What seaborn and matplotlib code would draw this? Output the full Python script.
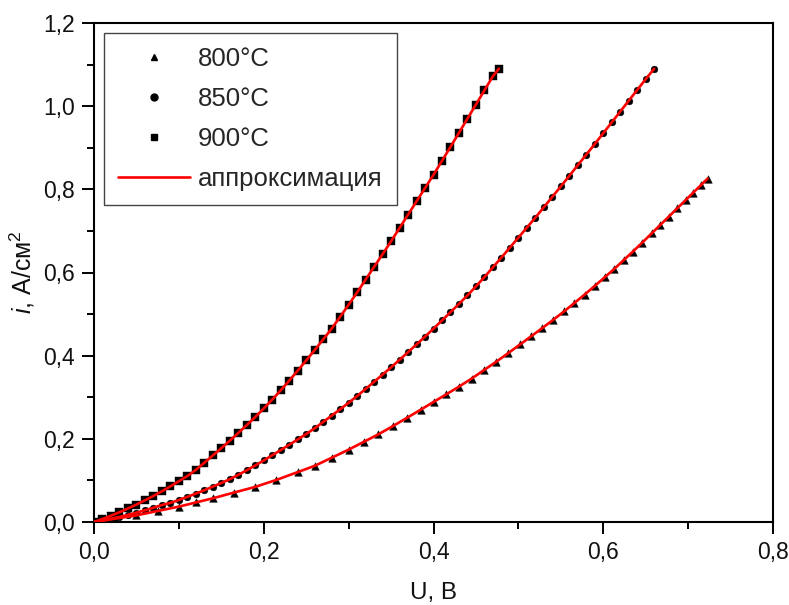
import matplotlib
matplotlib.use("Agg")
import matplotlib.pyplot as plt
from matplotlib.lines import Line2D
from matplotlib.ticker import MultipleLocator, FixedLocator, FixedFormatter
import seaborn as sns
import pandas as pd

# ---------------- data ----------------
u_800 = [0, 0.025, 0.05, 0.075, 0.10, 0.12, 0.14, 0.165, 0.19, 0.215, 0.24, 0.26, 0.28, 0.30,
         0.318, 0.335, 0.352, 0.369, 0.385, 0.40, 0.415, 0.43, 0.445, 0.46, 0.474, 0.488,
         0.502, 0.515, 0.528, 0.541, 0.554, 0.566, 0.578, 0.590, 0.602, 0.613, 0.624, 0.635,
         0.646, 0.657, 0.667, 0.677, 0.687, 0.697, 0.706, 0.715, 0.723]
i_800 = [0, 0.008, 0.016, 0.0265, 0.037, 0.047, 0.057, 0.0708, 0.0845, 0.1013, 0.120, 0.135,
         0.1545, 0.174, 0.1929, 0.2108, 0.2304, 0.2508, 0.2702, 0.2886, 0.307, 0.3255, 0.345,
         0.366, 0.3856, 0.406, 0.427, 0.4465, 0.4662, 0.4861, 0.5067, 0.5267, 0.5468, 0.5677,
         0.589, 0.6087, 0.6296, 0.6505, 0.672, 0.694, 0.714, 0.734, 0.754, 0.774, 0.792, 0.810,
         0.826]

u_850 = [0, 0.01, 0.02, 0.03, 0.04, 0.05, 0.06, 0.07, 0.08, 0.09, 0.10, 0.11, 0.12, 0.13, 0.14,
         0.15, 0.16, 0.17, 0.18, 0.19, 0.20, 0.21, 0.22, 0.23, 0.24, 0.25, 0.26, 0.27, 0.28, 0.29,
         0.30, 0.31, 0.32, 0.33, 0.34, 0.35, 0.36, 0.37, 0.38, 0.39, 0.40, 0.41, 0.42, 0.43, 0.44,
         0.45, 0.46, 0.47, 0.48, 0.49, 0.50, 0.51, 0.52, 0.53, 0.54, 0.55, 0.56, 0.57, 0.58, 0.59,
         0.60, 0.61, 0.62, 0.63, 0.64, 0.65, 0.66]
i_850 = [0, 0.0037, 0.0078, 0.0123, 0.0172, 0.0225, 0.0282, 0.0343, 0.0408, 0.046, 0.053,
         0.0605, 0.0683, 0.0765, 0.085, 0.0938, 0.103, 0.1135, 0.1245, 0.136, 0.148, 0.1605,
         0.173, 0.1857, 0.1985, 0.2115, 0.2255, 0.2405, 0.2557, 0.271, 0.2868, 0.3028, 0.320,
         0.337, 0.3545, 0.372, 0.390, 0.4085, 0.427, 0.4458, 0.465, 0.4847, 0.5045, 0.5245,
         0.545, 0.5665, 0.589, 0.6125, 0.636, 0.660, 0.684, 0.708, 0.732, 0.757, 0.782, 0.807,
         0.8325, 0.858, 0.8835, 0.909, 0.935, 0.961, 0.987, 1.013, 1.039, 1.065, 1.09]

u_900 = [0, 0.01, 0.02, 0.03, 0.04, 0.05, 0.06, 0.07, 0.08, 0.09, 0.10, 0.11, 0.12, 0.13, 0.14,
         0.15, 0.16, 0.17, 0.18, 0.19, 0.20, 0.21, 0.22, 0.23, 0.24, 0.25, 0.26, 0.27, 0.28, 0.29,
         0.30, 0.31, 0.32, 0.33, 0.34, 0.35, 0.36, 0.37, 0.38, 0.39, 0.40, 0.41, 0.42, 0.43, 0.44,
         0.45, 0.46, 0.47, 0.477]
i_900 = [0, 0.0073, 0.0151, 0.0235, 0.0325, 0.042, 0.0521, 0.0627, 0.0739, 0.0857, 0.098,
         0.1105, 0.1255, 0.1425, 0.160, 0.1775, 0.1955, 0.214, 0.233, 0.2525, 0.273, 0.2945,
         0.3165, 0.340, 0.364, 0.3885, 0.4135, 0.439, 0.465, 0.4935, 0.5225, 0.552, 0.583,
         0.6135, 0.644, 0.675, 0.707, 0.739, 0.771, 0.803, 0.835, 0.8685, 0.902, 0.936, 0.970,
         1.004, 1.038, 1.072, 1.09]

series_labels = ["800°C", "850°C", "900°C"]
series_markers = ["^", "o", "s"]
fit_label = "аппроксимация"

x_ticks = [0.0, 0.2, 0.4, 0.6, 0.8]
x_tick_labels = ["0,0", "0,2", "0,4", "0,6", "0,8"]
y_ticks = [0.0, 0.2, 0.4, 0.6, 0.8, 1.0, 1.2]
y_tick_labels = ["0,0", "0,2", "0,4", "0,6", "0,8", "1,0", "1,2"]
x_label = "U, В"
y_label = "$i$, А/см$^2$"

# ---------------- style ----------------
sns.set_theme(style="white")
plt.rcParams["font.family"] = ["Liberation Sans", "DejaVu Sans"]
plt.rcParams["mathtext.fontset"] = "custom"
plt.rcParams["mathtext.rm"] = "Liberation Sans"
plt.rcParams["mathtext.it"] = "Liberation Sans:italic"

fig = plt.figure(figsize=(7.89, 6.05), dpi=100)
ax = fig.add_axes([94 / 789, 1 - 522 / 605, (773 - 94) / 789, (522 - 23) / 605])

frames = [
    pd.DataFrame({"U": u_800, "i": i_800}),
    pd.DataFrame({"U": u_850, "i": i_850}),
    pd.DataFrame({"U": u_900, "i": i_900}),
]

for df, mk in zip(frames, series_markers):
    sns.scatterplot(data=df, x="U", y="i", ax=ax, marker=mk, color="black",
                    s=30 if mk != "o" else 24, edgecolor="black", linewidth=0.3, zorder=2)
for df in frames:
    sns.lineplot(data=df, x="U", y="i", ax=ax, color="#ff0000", linewidth=1.9,
                 sort=False, estimator=None, zorder=3)

ax.set_xlim(0, 0.8)
ax.set_ylim(0, 1.2)
ax.xaxis.set_major_locator(FixedLocator(x_ticks))
ax.xaxis.set_major_formatter(FixedFormatter(x_tick_labels))
ax.yaxis.set_major_locator(FixedLocator(y_ticks))
ax.yaxis.set_major_formatter(FixedFormatter(y_tick_labels))
ax.xaxis.set_minor_locator(MultipleLocator(0.1))
ax.yaxis.set_minor_locator(MultipleLocator(0.1))
ax.tick_params(axis="both", which="major", direction="out", length=8.5, width=1.4,
               color="black", labelsize=16.5, labelcolor="#111111", pad=5,
               bottom=True, left=True, top=False, right=False)
ax.tick_params(axis="both", which="minor", direction="out", length=5, width=1.4,
               color="black", bottom=True, left=True, top=False, right=False)
for sp in ax.spines.values():
    sp.set_visible(True)
    sp.set_color("black")
    sp.set_linewidth(1.5)

ax.set_xlabel(x_label, fontsize=17.5, labelpad=13, color="#111111")
ax.set_ylabel(y_label, fontsize=18, labelpad=5, color="#111111")

handles = [Line2D([], [], linestyle="none", marker=m, color="black", markersize=5)
           for m in series_markers]
handles.append(Line2D([], [], color="#ff0000", linewidth=1.9))
leg = ax.legend(handles, series_labels + [fit_label], loc="upper left",
                bbox_to_anchor=(10 / 679, 1 - 10 / 499), borderaxespad=0,
                fontsize=18.5, frameon=True, fancybox=False, framealpha=1,
                edgecolor="#444444", handlelength=2.8, handletextpad=0.3,
                labelspacing=0.62, borderpad=0.55)
leg.get_frame().set_linewidth(1.0)

fig.savefig("out.png", dpi=100)
